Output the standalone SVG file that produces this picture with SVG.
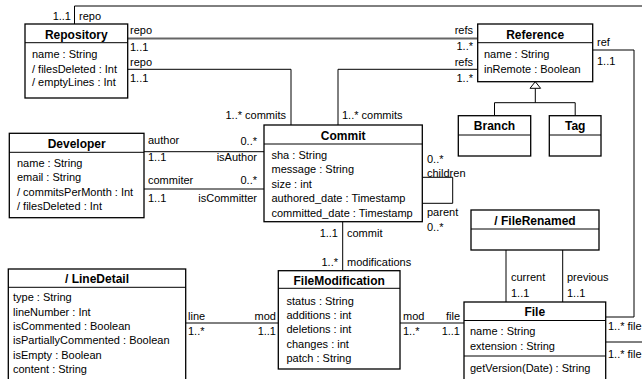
<svg xmlns="http://www.w3.org/2000/svg" width="642" height="379" viewBox="0 0 642 379">
<style>
text{font-family:"Liberation Sans",Arial,sans-serif;font-size:11px;fill:#000}
.t{font-weight:bold;font-size:12px;text-anchor:middle}
.e{text-anchor:end}
.box{fill:#fff;stroke:#000;stroke-width:1.3}
.sep{stroke:#000;stroke-width:1}
.c{fill:none;stroke:#000;stroke-width:1}
</style>
<rect width="642" height="379" fill="#fff"/>
<g id="connectors">
<path class="c" d="M74.5,24V6H650"/>
<path d="M127.7,38.5H477.7" stroke="#666" stroke-width="2" fill="none"/>
<path class="c" d="M127.7,69.3H291V125"/>
<path class="c" d="M477.7,69.3H338V125"/>
<path class="c" d="M592.7,50H634V317H605.7"/>
<path class="c" d="M605.7,342H650"/>
<path class="c" d="M144,151.7H264"/>
<path class="c" d="M144,189H264"/>
<path class="c" d="M422.3,177.3H452.7V203.3H422.3"/>
<path class="c" d="M342.7,221.7V270.7"/>
<path class="c" d="M185.7,323H278.3"/>
<path class="c" d="M400,323H464"/>
<path class="c" d="M506,250V302"/>
<path class="c" d="M562.7,250V302"/>
<path class="c" d="M535.3,88.3V102.7M494.5,115.7V102.7H575.2V115.7"/>
<polygon points="535.3,81.7 530,88.3 540.6,88.3" fill="#fff" stroke="#000" stroke-width="1"/>
<text x="71" y="20" class="e">1..1</text><text x="79" y="20">repo</text>
<text x="130" y="34">repo</text><text x="130" y="50.5">1..1</text>
<text x="130" y="65.5">repo</text><text x="130" y="82">1..1</text>
<text x="473" y="34" class="e">refs</text><text x="473" y="50" class="e">1..*</text>
<text x="473" y="65.5" class="e">refs</text><text x="473" y="82" class="e">1..*</text>
<text x="597" y="45.5">ref</text><text x="597" y="65">1..1</text>
<text x="286" y="119" class="e">1..*  commits</text>
<text x="342" y="119">1..*  commits</text>
<text x="148" y="144">author</text><text x="148" y="161">1..1</text>
<text x="257" y="161" class="e">isAuthor</text><text x="257" y="144.5" class="e">0..*</text>
<text x="148" y="184">commiter</text><text x="148" y="201.5">1..1</text>
<text x="257" y="201.5" class="e">isCommitter</text><text x="257" y="184" class="e">0..*</text>
<text x="427" y="163">0..*</text><text x="427" y="176.5">children</text>
<text x="427" y="215.5">parent</text><text x="427" y="230.5">0..*</text>
<text x="338" y="237" class="e">1..1</text><text x="347" y="237">commit</text>
<text x="338" y="265.5" class="e">1..*</text><text x="347" y="265.5">modifications</text>
<text x="188" y="319.5">line</text><text x="188" y="335">1..*</text>
<text x="276" y="319.5" class="e">mod</text><text x="276" y="335" class="e">1..1</text>
<text x="403" y="319.5">mod</text><text x="403" y="335">1..*</text>
<text x="460" y="319.5" class="e">file</text><text x="460" y="335" class="e">1..1</text>
<text x="511" y="281">current</text><text x="511" y="297">1..1</text>
<text x="567" y="281">previous</text><text x="567" y="297">1..1</text>
<text x="608" y="329.5">1..* file</text>
<text x="608" y="358">1..* file</text>
</g>
<g id="Repository">
<rect class="box" x="25" y="24" width="102.7" height="74"/>
<line class="sep" x1="25" y1="42.7" x2="127.7" y2="42.7"/>
<text x="76.3" y="38.5" class="t">Repository</text>
<text x="32" y="58">name : String</text>
<text x="32" y="72.5">/ filesDeleted : Int</text>
<text x="32" y="86">/ emptyLines : Int</text>
</g>
<g id="Reference">
<rect class="box" x="477.7" y="24" width="115" height="57.7"/>
<line class="sep" x1="477.7" y1="42.7" x2="592.7" y2="42.7"/>
<text x="535.2" y="38.5" class="t">Reference</text>
<text x="484" y="58">name : String</text>
<text x="484" y="72.5">inRemote : Boolean</text>
</g>
<g id="Branch">
<rect class="box" x="458.3" y="115.7" width="72.4" height="40.3"/>
<line class="sep" x1="458.3" y1="135" x2="530.7" y2="135"/>
<text x="494.5" y="130" class="t">Branch</text>
</g>
<g id="Tag">
<rect class="box" x="549.3" y="115.7" width="51.7" height="40.3"/>
<line class="sep" x1="549.3" y1="135" x2="601" y2="135"/>
<text x="575.2" y="130" class="t">Tag</text>
</g>
<g id="Developer">
<rect class="box" x="9.3" y="133.3" width="134.7" height="84.4"/>
<line class="sep" x1="9.3" y1="152.3" x2="144" y2="152.3"/>
<text x="76.7" y="147.5" class="t">Developer</text>
<text x="17" y="167">name : String</text>
<text x="17" y="181.3">email : String</text>
<text x="17" y="195.6">/ commitsPerMonth : Int</text>
<text x="17" y="209.9">/ filesDeleted : Int</text>
</g>
<g id="Commit">
<rect class="box" x="264" y="125" width="158.3" height="96.7"/>
<line class="sep" x1="264" y1="144" x2="422.3" y2="144"/>
<text x="343.2" y="139.5" class="t">Commit</text>
<text x="271.5" y="159">sha : String</text>
<text x="271.5" y="173.4">message : String</text>
<text x="271.5" y="187.8">size : int</text>
<text x="271.5" y="202.2">authored_date : Timestamp</text>
<text x="271.5" y="216.6">committed_date : Timestamp</text>
</g>
<g id="FileRenamed">
<rect class="box" x="471" y="210" width="128" height="40"/>
<line class="sep" x1="471" y1="229" x2="599" y2="229"/>
<text x="535" y="224.5" class="t">/ FileRenamed</text>
</g>
<g id="LineDetail">
<rect class="box" x="8.3" y="269" width="177.4" height="120"/>
<line class="sep" x1="8.3" y1="287.3" x2="185.7" y2="287.3"/>
<text x="97" y="283" class="t">/ LineDetail</text>
<text x="13" y="301.3">type : String</text>
<text x="13" y="315.7">lineNumber : Int</text>
<text x="13" y="330">isCommented : Boolean</text>
<text x="13" y="344.4">isPartiallyCommented : Boolean</text>
<text x="13" y="358.8">isEmpty : Boolean</text>
<text x="13" y="373.2">content : String</text>
</g>
<g id="FileModification">
<rect class="box" x="278.3" y="270.7" width="121.7" height="98.3"/>
<line class="sep" x1="278.3" y1="288.3" x2="400" y2="288.3"/>
<text x="339.2" y="284.5" class="t">FileModification</text>
<text x="286.5" y="304.7">status : String</text>
<text x="286.5" y="319">additions : int</text>
<text x="286.5" y="333.3">deletions : int</text>
<text x="286.5" y="347.6">changes : int</text>
<text x="286.5" y="362">patch : String</text>
</g>
<g id="File">
<rect class="box" x="464" y="302" width="141.7" height="90"/>
<line class="sep" x1="464" y1="320.5" x2="605.7" y2="320.5"/>
<line class="sep" x1="464" y1="356" x2="605.7" y2="356"/>
<text x="534.8" y="316" class="t">File</text>
<text x="470" y="335">name : String</text>
<text x="470" y="350">extension : String</text>
<text x="470" y="371.5">getVersion(Date) : String</text>
</g>
</svg>
